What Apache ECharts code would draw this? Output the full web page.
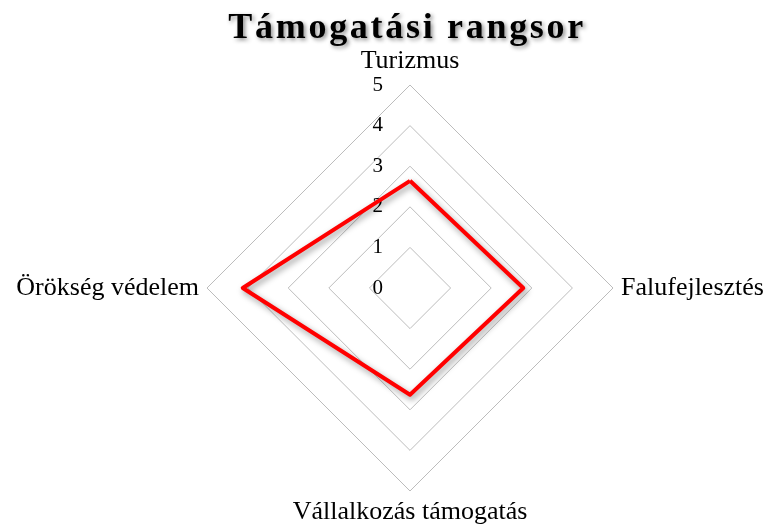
<!DOCTYPE html>
<html>
<head>
<meta charset="utf-8">
<title>Támogatási rangsor</title>
<script src="https://cdn.jsdelivr.net/npm/echarts@6/dist/echarts.min.js"></script>
<style>
  html, body { margin: 0; padding: 0; background: #fff; }
  #chart { width: 771px; height: 531px; }
</style>
</head>
<body>
<div id="chart"></div>
<script>
// indicators (counter-clockwise from top, as echarts lays them out) and values
var categories = ['Turizmus', 'Örökség védelem', 'Vállalkozás támogatás', 'Falufejlesztés'];
var values = [2.64, 4.12, 2.63, 2.79];
var maxValue = 5;
var titleText = 'Támogatási rangsor';

var serif = '"Liberation Serif", "DejaVu Serif", serif';
var chart = echarts.init(document.getElementById('chart'));

// spaced-out title: each letter as its own rich token with a bit of padding
var spaced = titleText.split('').map(function (ch) {
    return '{c|' + ch + '}';
}).join('');

chart.setOption({
    animation: false,
    title: {
        text: spaced,
        left: 222,
        top: 6,
        textStyle: {
            rich: {
                c: {
                    fontFamily: serif,
                    fontWeight: 'bold',
                    fontSize: 36,
                    color: '#000',
                    padding: [0, 1.35],
                    textShadowColor: 'rgba(0,0,0,0.45)',
                    textShadowBlur: 4,
                    textShadowOffsetX: 2,
                    textShadowOffsetY: 2
                }
            }
        }
    },
    radar: {
        center: [410, 288],
        radius: 203,
        startAngle: 90,
        shape: 'polygon',
        splitNumber: 5,
        nameGap: 8,
        axisName: { color: '#000', fontFamily: serif, fontSize: 26 },
        axisLine: { show: false },
        axisTick: { show: false },
        splitArea: { show: false },
        splitLine: { lineStyle: { color: '#bcbcbc', width: 1 } },
        axisLabel: { show: false },
        indicator: categories.map(function (name, i) {
            var ind = { name: name, min: 0, max: maxValue };
            if (i === 0) {
                ind.axisLabel = { show: true, color: '#000', fontFamily: serif, fontSize: 21, margin: 27 };
            }
            return ind;
        })
    },
    series: [{
        type: 'radar',
        symbol: 'none',
        lineStyle: {
            color: '#ff0000',
            width: 4,
            shadowColor: 'rgba(0,0,0,0.4)',
            shadowBlur: 6,
            shadowOffsetX: 2,
            shadowOffsetY: 3
        },
        data: [{ value: values, name: titleText }]
    }]
});
</script>
</body>
</html>
